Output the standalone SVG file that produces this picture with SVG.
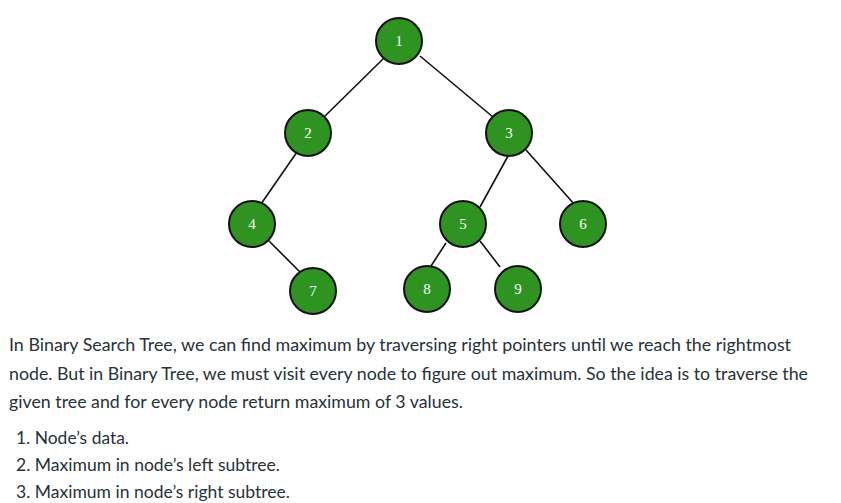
<svg xmlns="http://www.w3.org/2000/svg" width="841" height="503" viewBox="0 0 841 503">
<style>
.n circle{fill:#2f9322;stroke:#111;stroke-width:2}
.n text{fill:#fff;font-family:"Liberation Serif",serif;font-size:15px;text-anchor:middle}
#edges line{stroke:#111;stroke-width:1.6}
.t{fill:#273239;font-family:Lato,"Noto Sans",sans-serif;font-size:17.5px}
</style>
<rect width="841" height="503" fill="#fff"/>
<g id="edges">
<line x1="384" y1="58" x2="324" y2="117"/>
<line x1="420" y1="56" x2="493" y2="117"/>
<line x1="297" y1="152" x2="261" y2="204"/>
<line x1="268" y1="240" x2="300" y2="272"/>
<line x1="508" y1="156" x2="480" y2="207"/>
<line x1="526" y1="150" x2="575" y2="205"/>
<line x1="446" y1="243" x2="431" y2="266"/>
<line x1="480" y1="241" x2="500" y2="267"/>
</g>
<g id="n1" class="n"><circle cx="399" cy="41" r="23"/><text x="399" y="46">1</text></g>
<g id="n2" class="n"><circle cx="308" cy="133" r="23"/><text x="308" y="138">2</text></g>
<g id="n3" class="n"><circle cx="509" cy="133" r="23"/><text x="509" y="138">3</text></g>
<g id="n4" class="n"><circle cx="252" cy="224" r="23"/><text x="252" y="229">4</text></g>
<g id="n5" class="n"><circle cx="463" cy="224" r="23"/><text x="463" y="229">5</text></g>
<g id="n6" class="n"><circle cx="583" cy="224" r="23"/><text x="583" y="229">6</text></g>
<g id="n7" class="n"><circle cx="313" cy="291" r="23"/><text x="313" y="296">7</text></g>
<g id="n8" class="n"><circle cx="427" cy="289" r="23"/><text x="427" y="294">8</text></g>
<g id="n9" class="n"><circle cx="518" cy="289" r="23"/><text x="518" y="294">9</text></g>
<text class="t" x="9" y="351" textLength="782" lengthAdjust="spacingAndGlyphs">In Binary Search Tree, we can find maximum by traversing right pointers until we reach the rightmost</text>
<text class="t" x="9" y="380" textLength="799" lengthAdjust="spacingAndGlyphs">node. But in Binary Tree, we must visit every node to figure out maximum. So the idea is to traverse the</text>
<text class="t" x="9" y="408" textLength="454" lengthAdjust="spacingAndGlyphs">given tree and for every node return maximum of 3 values.</text>
<text class="t" x="16" y="444" textLength="113" lengthAdjust="spacingAndGlyphs">1. Node’s data.</text>
<text class="t" x="16" y="471" textLength="264" lengthAdjust="spacingAndGlyphs">2. Maximum in node’s left subtree.</text>
<text class="t" x="16" y="498" textLength="274" lengthAdjust="spacingAndGlyphs">3. Maximum in node’s right subtree.</text>
</svg>
